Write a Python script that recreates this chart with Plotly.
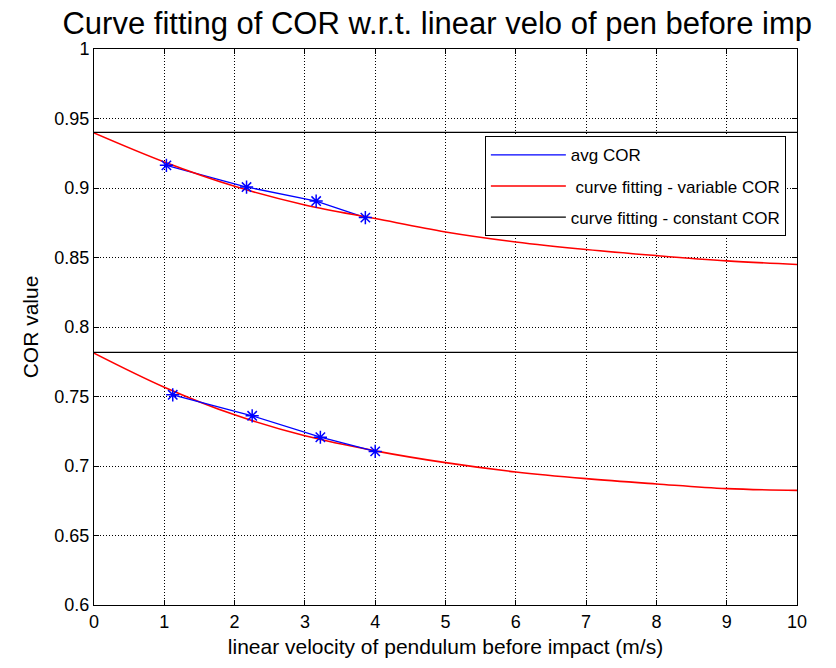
import plotly.graph_objects as go

# Measured data (avg COR)
avg_x_upper = [1.03, 2.17, 3.16, 3.86]
avg_y_upper = [0.9163, 0.9007, 0.8906, 0.8787]
avg_x_lower = [1.12, 2.25, 3.22, 4.00]
avg_y_lower = [0.7512, 0.7361, 0.7207, 0.7105]

# Curve fitting - variable COR
fit_x = [0, 1, 2, 3, 4, 5, 6, 7, 8, 9, 10]
fit_y_upper = [0.9396, 0.9187, 0.9012, 0.8878, 0.8780, 0.8684, 0.8612, 0.8558, 0.8514, 0.8476, 0.8450]
fit_y_lower = [0.7812, 0.7567, 0.7368, 0.7217, 0.7109, 0.7024, 0.6957, 0.6909, 0.6871, 0.6837, 0.6825]

# Curve fitting - constant COR
const_x = [0, 10]
const_upper = 0.9400
const_lower = 0.7817

x_ticks = [0, 1, 2, 3, 4, 5, 6, 7, 8, 9, 10]
y_ticks = [0.6, 0.65, 0.7, 0.75, 0.8, 0.85, 0.9, 0.95, 1]
y_tick_labels = ["0.6", "0.65", "0.7", "0.75", "0.8", "0.85", "0.9", "0.95", "1"]

FONT = "Liberation Sans, Arial, sans-serif"
BLUE = "#0000ff"
RED = "#ff0000"

fig = go.Figure()

# legend entries (lines)
fig.add_trace(go.Scatter(x=avg_x_upper, y=avg_y_upper, mode="lines",
                         line=dict(color=BLUE, width=1.3), name="avg COR",
                         legendgroup="a"))
fig.add_trace(go.Scatter(x=fit_x, y=fit_y_upper, mode="lines",
                         line=dict(color=RED, width=1.6, shape="spline"),
                         name=" curve fitting - variable COR", legendgroup="b"))
fig.add_trace(go.Scatter(x=const_x, y=[const_upper] * 2, mode="lines",
                         line=dict(color="black", width=1.2),
                         name="curve fitting - constant COR", legendgroup="c"))
# lower set
fig.add_trace(go.Scatter(x=fit_x, y=fit_y_lower, mode="lines",
                         line=dict(color=RED, width=1.6, shape="spline"),
                         showlegend=False))
fig.add_trace(go.Scatter(x=const_x, y=[const_lower] * 2, mode="lines",
                         line=dict(color="black", width=1.2), showlegend=False))
fig.add_trace(go.Scatter(x=avg_x_lower, y=avg_y_lower, mode="lines",
                         line=dict(color=BLUE, width=1.3), showlegend=False))
# markers
for xs, ys in [(avg_x_upper, avg_y_upper), (avg_x_lower, avg_y_lower)]:
    fig.add_trace(go.Scatter(x=xs, y=ys, mode="markers",
                             marker=dict(symbol="asterisk-open", size=11, color=BLUE,
                                         line=dict(color=BLUE, width=1.5)),
                             showlegend=False))

axis_common = dict(showline=True, linecolor="black", linewidth=1, mirror="allticks",
                   ticks="inside", ticklen=5, tickcolor="black",
                   showgrid=True, gridcolor="black", griddash="1px,2px", gridwidth=1,
                   zeroline=False, tickfont=dict(family=FONT, size=18, color="black"))

fig.update_xaxes(range=[0, 10], tickvals=x_ticks, ticktext=[str(t) for t in x_ticks],
                 title=dict(text="linear velocity of pendulum before impact (m/s)",
                            font=dict(family=FONT, size=21, color="black"), standoff=8),
                 **axis_common)
fig.update_yaxes(range=[0.6, 1], tickvals=y_ticks, ticktext=y_tick_labels,
                 title=dict(text="COR value", font=dict(family=FONT, size=21, color="black"),
                            standoff=10),
                 **axis_common)

fig.update_layout(
    width=836, height=668,
    margin=dict(l=94, r=39, t=49, b=63),
    paper_bgcolor="white", plot_bgcolor="white",
    title=dict(text="Curve fitting of COR w.r.t. linear velo of pen before imp",
               font=dict(family=FONT, size=31, color="black"),
               x=0.523, xanchor="center", y=0.982, yanchor="top"),
    legend=dict(x=0.556, y=0.843, xanchor="left", yanchor="top",
                bgcolor="white", bordercolor="black", borderwidth=1,
                font=dict(family=FONT, size=17, color="black"),
                itemwidth=75,
                traceorder="grouped", tracegroupgap=6),
    showlegend=True,
)

fig.write_html("out.html")
